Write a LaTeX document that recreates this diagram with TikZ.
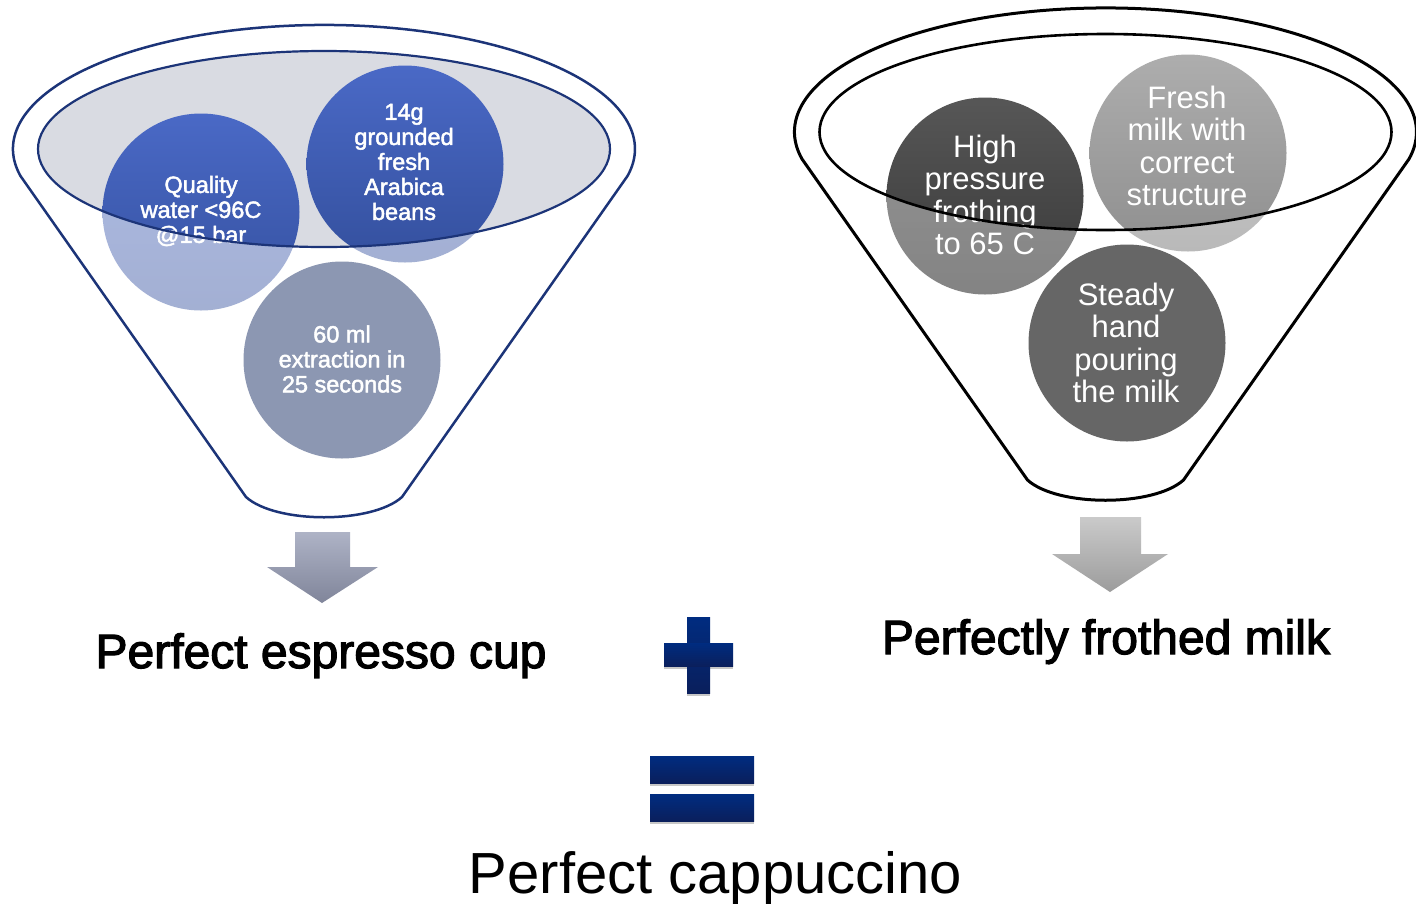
\documentclass[tikz,border=0pt]{standalone}
\usepackage{fontspec}
\setmainfont{Liberation Sans}
\newfontfamily\heavysans[FakeBold=2.5]{Liberation Sans}
\newfontfamily\discsans[FakeBold=2]{Liberation Sans}
\definecolor{navyline}{HTML}{1C3478}
\definecolor{bowlgrey}{HTML}{D9DBE2}
\definecolor{blueTop}{HTML}{4A69C6}
\definecolor{blueBot}{HTML}{34509E}
\definecolor{slate}{HTML}{8C97B2}
\definecolor{plusTop}{HTML}{002C80}
\definecolor{plusBot}{HTML}{0A1F5C}
\definecolor{arrowTopA}{HTML}{AEB3C6}
\definecolor{arrowBotA}{HTML}{80859A}
\definecolor{arrowTopB}{HTML}{CACACA}
\definecolor{arrowBotB}{HTML}{9C9C9C}
\begin{document}
\begin{tikzpicture}[x=1pt,y=1pt,
  disc/.style={circle, minimum size=197pt, inner sep=0pt},
  disctext/.style={text=white, align=center},
  bluefont/.style={font=\discsans\fontsize{23.5}{25}\selectfont},
  greyfont/.style={font=\fontsize{31}{32.5}\selectfont},
  caption/.style={font=\heavysans\fontsize{48}{50}\selectfont, text=black, anchor=base},
  bar/.style={top color=plusTop, bottom color=plusBot, draw=none},
  barshadow/.style={fill=black!22, draw=none},
]
\useasboundingbox (0,0) rectangle (1416,-903);
\fill[white] (0,0) rectangle (1416,-903);

% ---------------- espresso funnel ----------------
\fill[bowlgrey] (324,-149) ellipse[x radius=286, y radius=98];
\node[disc, top color=blueTop, bottom color=blueBot] (quality) at (201,-212) {};
\node[disctext, bluefont] (qualityT) at (201,-211) {Quality\\water <96C\\@15 bar};
\node[disc, top color=blueTop, bottom color=blueBot] (beans) at (405,-164) {};
\node[disctext, bluefont] (beansT) at (404,-162) {14g\\grounded\\fresh\\Arabica\\beans};
% washed front of the funnel body
\fill[white, opacity=0.55, even odd rule]
  (20.5,-176) arc[start angle=192.6, end angle=-12.6, x radius=311, y radius=124]
  -- (402,-497) .. controls (372,-524) and (276,-524) .. (246,-497) -- cycle
  (324,-149) ellipse[x radius=286, y radius=98];
\node[disc, fill=slate] (extract) at (342,-360) {};
\node[disctext, bluefont] (extractT) at (342,-359) {60 ml\\extraction in\\25 seconds};
\draw[navyline, line width=2.5pt, line join=round]
  (20.5,-176) arc[start angle=192.6, end angle=-12.6, x radius=311, y radius=124]
  -- (402,-497) .. controls (372,-524) and (276,-524) .. (246,-497) -- cycle;
\draw[navyline, line width=2.2pt] (324,-149) ellipse[x radius=286, y radius=98];

% ---------------- milk funnel ----------------
\node[disc, top color=black!66, bottom color=black!78] (froth) at (985,-196) {};
\node[disctext, greyfont] (frothT) at (985,-195) {High\\pressure\\frothing\\to 65 C};
\node[disc, top color=black!32, bottom color=black!44] (fresh) at (1188,-153) {};
\node[disctext, greyfont] (freshT) at (1187,-146) {Fresh\\milk with\\correct\\structure};
\begin{scope}[shift={(781.5,17)}]
\fill[white, opacity=0.38, even odd rule]
  (20.5,-176) arc[start angle=192.6, end angle=-12.6, x radius=311, y radius=124]
  -- (402,-497) .. controls (372,-524) and (276,-524) .. (246,-497) -- cycle
  (324,-149) ellipse[x radius=286, y radius=98];
\end{scope}
\node[disc, fill=black!60] (steady) at (1127,-343) {};
\node[disctext, greyfont] (steadyT) at (1126,-343) {Steady\\hand\\pouring\\the milk};
\begin{scope}[shift={(781.5,17)}]
\draw[black, line width=3pt, line join=round]
  (20.5,-176) arc[start angle=192.6, end angle=-12.6, x radius=311, y radius=124]
  -- (402,-497) .. controls (372,-524) and (276,-524) .. (246,-497) -- cycle;
\draw[black, line width=2.6pt] (324,-149) ellipse[x radius=286, y radius=98];
\end{scope}

% ---------------- block arrows ----------------
\shade[top color=arrowTopA, bottom color=arrowBotA]
  (295,-532) -- (350,-532) -- (350,-567) -- (378,-567) -- (322,-603)
  -- (267,-567) -- (295,-567) -- cycle;
\shade[top color=arrowTopB, bottom color=arrowBotB]
  (1080,-517) -- (1141,-517) -- (1141,-554) -- (1168,-554) -- (1110,-592)
  -- (1052,-554) -- (1080,-554) -- cycle;

% ---------------- captions ----------------
\node[caption] (espresso) at (321,-668) {Perfect espresso cup};
\node[caption] (milk) at (1106,-654) {Perfectly frothed milk};
\node[font=\fontsize{58}{60}\selectfont, anchor=base] (cappuccino) at (715.5,-893) {Perfect cappuccino};

% ---------------- plus and equals ----------------
\fill[barshadow] (664,-666) rectangle (733,-669);
\fill[barshadow] (687,-693) rectangle (710,-696);
\shade[bar] (687,-617) rectangle (710,-693);
\shade[bar] (664,-643) rectangle (733,-666);
\fill[barshadow] (650,-783) rectangle (754,-786);
\fill[barshadow] (650,-821) rectangle (754,-824);
\shade[bar] (650,-756) rectangle (754,-783);
\shade[bar] (650,-794) rectangle (754,-821);
\end{tikzpicture}
\end{document}
